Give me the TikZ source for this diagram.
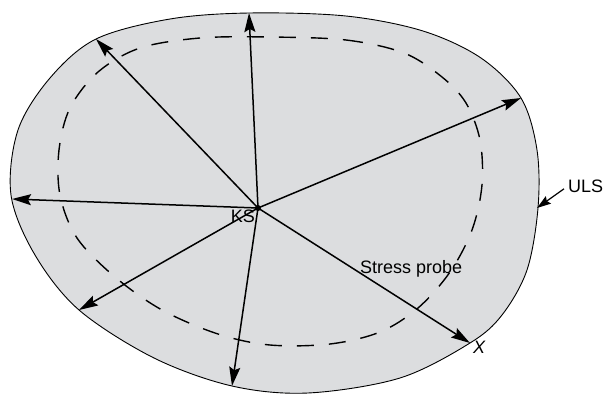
\documentclass[tikz,border=0pt]{standalone}
\usepackage{fontspec}
\setmainfont{Liberation Sans}
\usetikzlibrary{arrows.meta}
\definecolor{ulsgray}{RGB}{220,221,223}

\begin{document}
\begin{tikzpicture}[x=1pt, y=-1pt, >={Stealth[length=19pt, width=11pt, inset=3pt]}, every node/.style={font=\fontsize{18}{20}\selectfont, inner sep=0pt}, probe/.style={->, line width=1.5pt}]
  \useasboundingbox (0,0) rectangle (603,394);
  % ultimate limit surface
  \filldraw[fill=ulsgray, line width=0.9pt] plot[smooth cycle, tension=0.55] coordinates {(249,13) (346,16) (423,31) (481,58) (521,98) (537,150) (538,208) (527,270) (502,315) (470,343) (400,378) (308,393) (232,386) (154,358) (79,310) (35,255) (11,195) (18,130) (50,78) (96,39) (170,19)};
  % inner surface
  \draw[dash pattern=on 17pt off 15pt, line width=1.4pt] plot[smooth cycle, tension=0.55] coordinates {(269,37) (346,40) (404,53) (442,77) (466,103) (480,140) (482,185) (472,230) (450,272) (418,308) (380,332) (330,344) (270,345) (218,334) (162,310) (115,277) (77,238) (60,195) (59,150) (70,108) (98,72) (140,48) (200,38)};
  \coordinate (ks) at (258,208);
  \coordinate (top) at (249,13);
  \coordinate (upleft) at (96,39);
  \coordinate (left) at (12,199);
  \coordinate (lowleft) at (79,310);
  \coordinate (bottom) at (232,386);
  \coordinate (xtip) at (470,343);
  \coordinate (upright) at (521,98);
  \foreach \tip in {top, upleft, left, lowleft, bottom, xtip, upright}
    \draw[probe] (ks) -- (\tip);
  \fill (ks) circle (3pt);
  \node[anchor=base east] (kslbl) at (255,222) {KS};
  \node[anchor=base west] (probelbl) at (360,273) {Stress probe};
  \node[anchor=base west] (xlbl) at (473,353) {\itshape X};
  % ULS pointer
  \node[anchor=base west] (ulslbl) at (568,192) {ULS};
  \coordinate (ulstip) at (537,208);
  \draw[->, >={Stealth[length=14pt, width=9pt, inset=2pt]}, line width=1.2pt] (ulslbl.west) ++(-4,3) -- (ulstip);
\end{tikzpicture}
\end{document}
